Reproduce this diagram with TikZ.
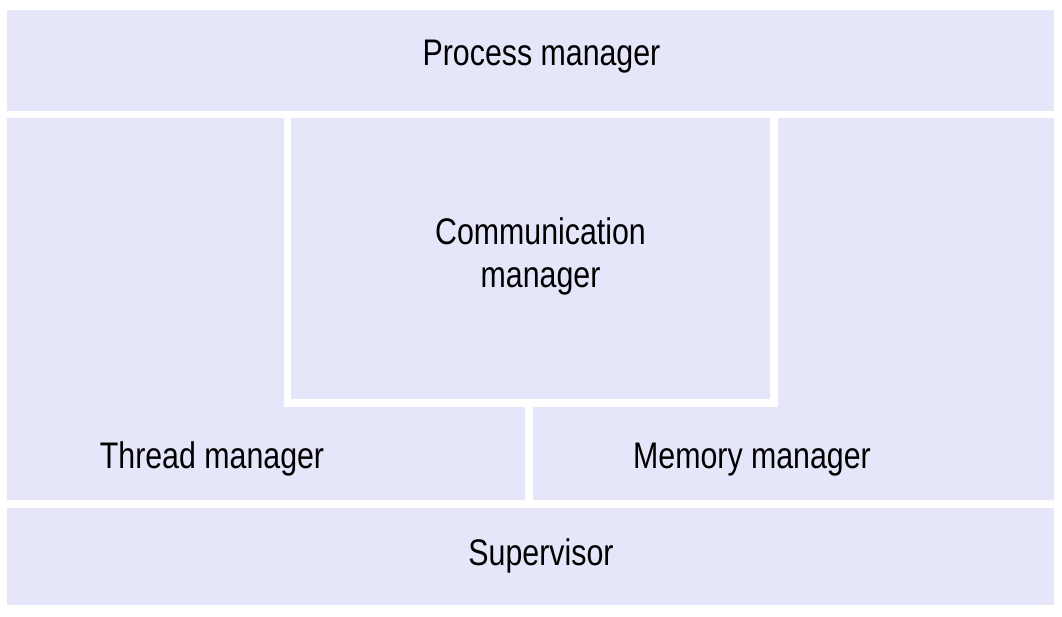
\documentclass[tikz,border=0pt]{standalone}
\usepackage{fontspec}
\setmainfont{Liberation Sans}[FakeStretch=0.82]
\usepackage{tikz}
\definecolor{lav}{RGB}{230,230,250}

\begin{document}
\begin{tikzpicture}
		[x=1pt,y=-1pt,
		area/.style ={fill=lav, draw=none},
		lbl/.style ={anchor=base, inner sep=0pt, text=black, align=center, font=\fontsize{37}{43}\selectfont},
		]
		\useasboundingbox (0,0) rectangle (1062,616);

		\path[area] (7,10) rectangle (1054,111);
		\path[area] (7,118) -- (284,118) -- (284,407) -- (525,407) -- (525,500) -- (7,500) -- cycle;
		\path[area] (778,118) -- (1054,118) -- (1054,500) -- (533,500) -- (533,407) -- (778,407) -- cycle;
		\path[area] (291,118) rectangle (770,399);
		\path[area] (7,508) rectangle (1054,605);

		\draw (541.5,65) node[lbl] (PM) {Process manager};
		\draw (540.5,287) node[lbl] (CM) {Communication\\manager};
		\draw (212,468) node[lbl] (TM) {Thread manager};
		\draw (752,468) node[lbl] (MM) {Memory manager};
		\draw (541,565) node[lbl] (SV) {Supervisor};
	\end{tikzpicture}
\end{document}
